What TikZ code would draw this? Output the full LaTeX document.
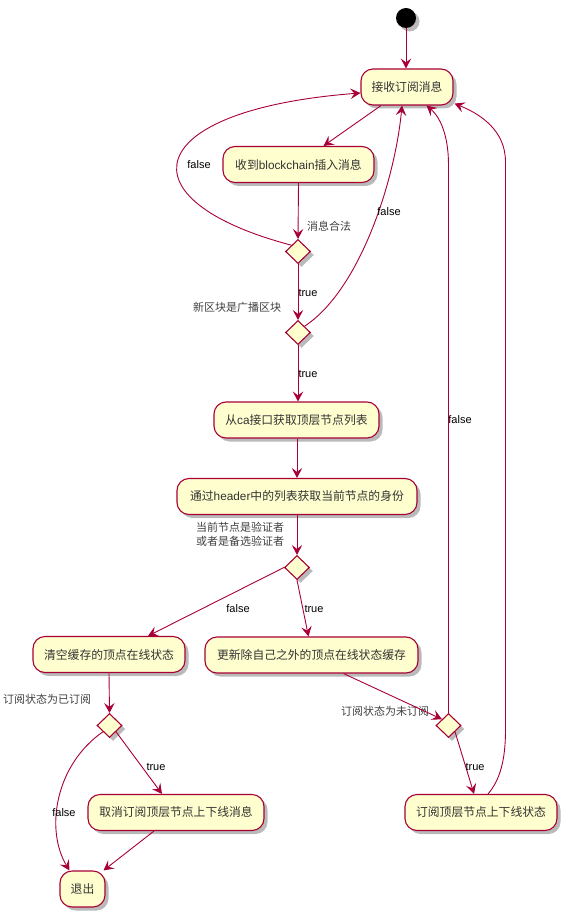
\documentclass[tikz,border=0pt]{standalone}
\usepackage{fontspec}
\setmainfont{Liberation Sans}
\newfontfamily\cjk{Noto Sans CJK SC}
\usetikzlibrary{shapes.geometric,arrows.meta,shadows,calc}
\definecolor{umlred}{HTML}{A80036}
\definecolor{umlfill}{HTML}{FEFECE}
\tikzset{
  shade/.style={drop shadow={shadow xshift=3.5pt,shadow yshift=-3.5pt,opacity=0.45,fill=black!60}},
  act/.style={draw=umlred, fill=umlfill, line width=1.1pt, rounded corners=12pt,
    minimum height=36pt, inner sep=0pt, text=black!80,
    font=\cjk\fontsize{11.8}{14}\selectfont, shade},
  dec/.style={diamond, draw=umlred, fill=umlfill, line width=1.1pt,
    minimum width=25pt, minimum height=24pt, inner sep=0pt, shade},
  flow/.style={draw=umlred, line width=0.9pt,
    -{Stealth[length=10pt,width=10.5pt,inset=4pt]}},
  tf/.style={font=\fontsize{11}{13}\selectfont, text=black, inner sep=0pt},
  cond/.style={font=\cjk\fontsize{11}{14}\selectfont, text=black!75, inner sep=0pt, align=center}
}
\newcommand{\lt}[1]{{\rmfamily #1}}
\begin{document}
\begin{tikzpicture}[x=1pt,y=-1pt]
\useasboundingbox (0,0) rectangle (567,917);

% activities
\node[circle, fill=black, minimum size=20pt, inner sep=0pt, shade] (start) at (406,18) {};
\node[act, minimum width=92pt] (b1) at (407,87) {接收订阅消息};
\node[act, minimum width=151pt] (b2) at (298.5,164.5) {收到\lt{blockchain}插入消息};
\node[dec] (d1) at (298,251.5) {};
\node[dec] (d2) at (298,332.5) {};
\node[act, minimum width=165pt] (b3) at (296.5,420) {从\lt{ca}接口获取顶层节点列表};
\node[act, minimum width=240pt] (b4) at (297,496.5) {通过\lt{header}中的列表获取当前节点的身份};
\node[dec] (d3) at (297,567.5) {};
\node[act, minimum width=152pt] (b5) at (109,654.5) {清空缓存的顶点在线状态};
\node[act, minimum width=213pt] (b6) at (311.5,655) {更新除自己之外的顶点在线状态缓存};
\node[dec] (d4) at (109.5,725.5) {};
\node[dec] (d5) at (448.5,725.5) {};
\node[act, minimum width=176pt] (b7) at (176,812.5) {取消订阅顶层节点上下线消息};
\node[act, minimum width=152pt] (b8) at (481,812.5) {订阅顶层节点上下线状态};
\node[act, minimum width=45pt] (exit) at (82.5,889) {退出};

% branch conditions
\node[cond] (c1) at (329,226) {消息合法};
\node[cond] (c2) at (237,307) {新区块是广播区块};
\node[cond] (c3) at (240,534) {当前节点是验证者\\或者是备选验证者};
\node[cond] (c4) at (47,699) {订阅状态为已订阅};
\node[cond] (c5) at (385,711) {订阅状态为未订阅};

% flow
\draw[flow] (start) -- (start |- b1.north);
\draw[flow] ($(b1.south)+(-26,0)$) -- ($(b2.north)+(25,0)$);
\draw[flow] (b2.south) -- (d1.north);
\draw[flow] (d1.north west) .. controls (120,200) and (140,110) .. ($(b1.west)+(0,6)$);
\draw[flow] (d1.south) -- (d2.north);
\draw[flow] (d2.north east) .. controls (360,290) and (395,180) .. ($(b1.south)+(-5,0)$);
\draw[flow] (d2.south) -- (b3.north -| d2.south);
\draw[flow] (b3.south -| b4.north) -- (b4.north);
\draw[flow] (b4.south) -- (d3.north);
\draw[flow] (d3.west) -- ($(b5.north)+(39,0)$);
\draw[flow] (d3.south) -- ($(b6.north)+(-3,0)$);
\draw[flow] (b5.south) -- (d4.north);
\draw[flow] (d4.south west) .. controls (55,765) and (45,830) .. ($(exit.north)+(-13,0)$);
\draw[flow] (d4.south east) -- ($(b7.north)+(-14,0)$);
\draw[flow] ($(b7.south)+(-22,0)$) -- ($(exit.north)+(21,0)$);
\draw[flow] ($(b6.south)+(32,0)$) -- (d5.north west);
\coordinate (r1) at (448.5,165);
\draw[flow] (d5.north) -- (r1) .. controls (448.5,135) and (440,117) .. ($(b1.south east)+(-27,0)$);
\draw[flow] (d5.south east) -- ($(b8.north)+(-7,0)$);
\coordinate (r2) at (505.5,730);
\coordinate (r3) at (505.5,162);
\draw[flow] ($(b8.north)+(7,0)$) .. controls (500,780) and (505.5,760) .. (r2) -- (r3)
  .. controls (505.5,130) and (480,114) .. ($(b1.south east)+(1,-2)$);

% guard labels
\node[tf] (f1) at (199,165) {false};
\node[tf] (f2) at (389,212) {false};
\node[tf] (t1) at (308,293) {true};
\node[tf] (t2) at (308,374) {true};
\node[tf] (f3) at (238,609) {false};
\node[tf] (t3) at (314,609) {true};
\node[tf] (f4) at (64,813) {false};
\node[tf] (t4) at (156,767) {true};
\node[tf] (f5) at (460,420) {false};
\node[tf] (t5) at (475,767) {true};
\end{tikzpicture}
\end{document}
